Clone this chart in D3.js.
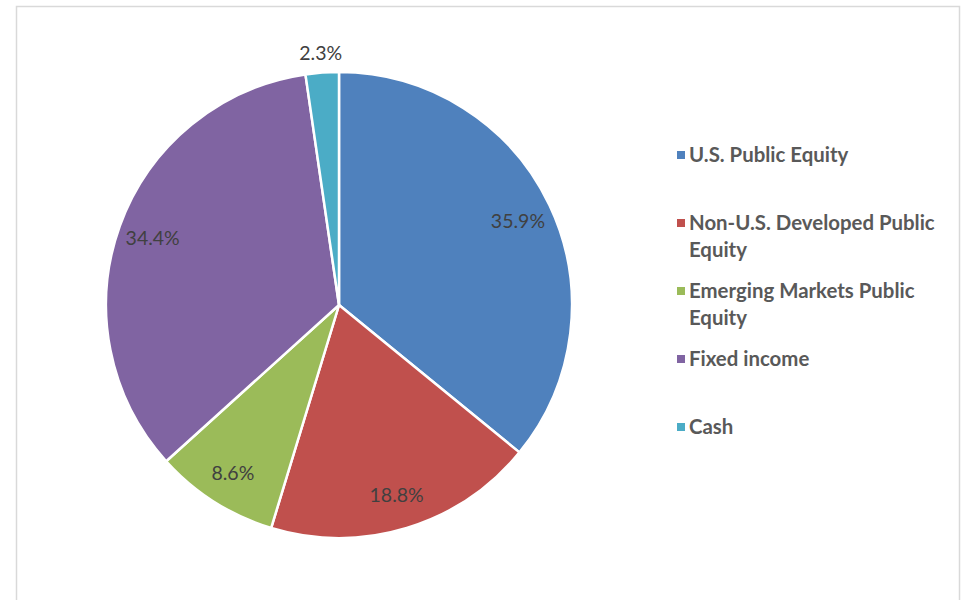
<!DOCTYPE html>
<html>
<head>
<meta charset="utf-8">
<script src="https://cdn.jsdelivr.net/npm/d3@7"></script>
<style>
  body { margin: 0; background: #fff; }
  svg { display: block; }
</style>
</head>
<body>
<svg id="chart"></svg>
<script>
// allocation data
var categories = ["U.S. Public Equity", "Non-U.S. Developed Public Equity",
                  "Emerging Markets Public Equity", "Fixed income", "Cash"];
var shares = [35.9, 18.8, 8.6, 34.4, 2.3];
var colors = ["#4F81BD", "#C0504D", "#9BBB59", "#8064A2", "#4BACC6"];

var width = 966, height = 600;
var cx = 339, cy = 305, radius = 233;

var svg = d3.select("#chart")
    .attr("width", width)
    .attr("height", height);

// outer chart frame
svg.append("rect")
    .attr("x", 16.5).attr("y", 6.5)
    .attr("width", 943).attr("height", 620)
    .attr("fill", "none")
    .attr("stroke", "#d9d9d9")
    .attr("stroke-width", 1.5);

var data = categories.map(function (c, i) {
    return {name: c, value: shares[i], color: colors[i]};
});

var pie = d3.pie()
    .sort(null)
    .value(function (d) { return d.value; });

var arc = d3.arc().innerRadius(0).outerRadius(radius);
var labelArc = d3.arc().innerRadius(radius * 0.85).outerRadius(radius * 0.85);
var outerLabelArc = d3.arc().innerRadius(radius + 20).outerRadius(radius + 20);

var g = svg.append("g")
    .attr("transform", "translate(" + cx + "," + cy + ")");

var arcs = pie(data);

g.selectAll(".slice")
    .data(arcs)
    .enter().append("path")
    .attr("class", "slice")
    .attr("d", arc)
    .attr("fill", function (d) { return d.data.color; })
    .attr("stroke", "#fff")
    .attr("stroke-width", 2.5)
    .attr("stroke-linejoin", "round");

g.selectAll(".label")
    .data(arcs)
    .enter().append("text")
    .attr("class", "label")
    .attr("transform", function (d) {
        var a = d.data.value < 5 ? outerLabelArc : labelArc;
        return "translate(" + a.centroid(d) + ")";
    })
    .attr("text-anchor", "middle")
    .attr("dy", "0.38em")
    .attr("font-family", "Lato, 'Open Sans', sans-serif")
    .attr("font-size", "19.5px")
    .attr("fill", "#404040")
    .text(function (d) { return d.data.value.toFixed(1) + "%"; });

// legend
var legend = svg.append("g")
    .attr("transform", "translate(677,155)");

var item = legend.selectAll(".item")
    .data(data)
    .enter().append("g")
    .attr("class", "item")
    .attr("transform", function (d, i) { return "translate(0," + (i * 68) + ")"; });

item.append("rect")
    .attr("x", 0).attr("y", -4)
    .attr("width", 8).attr("height", 8)
    .attr("fill", function (d) { return d.color; });

item.append("text")
    .attr("x", 12)
    .attr("y", 0)
    .attr("dy", "0.36em")
    .attr("font-family", "Lato, 'Open Sans', sans-serif")
    .attr("font-weight", "bold")
    .attr("font-size", "20.4px")
    .attr("fill", "#595959")
    .each(function (d) {
        var el = d3.select(this);
        var words = d.name.split(" ");
        var line = [];
        var tspan = el.append("tspan").attr("x", 12);
        words.forEach(function (w) {
            line.push(w);
            tspan.text(line.join(" "));
            if (tspan.node().getComputedTextLength() > 262 && line.length > 1) {
                line.pop();
                tspan.text(line.join(" "));
                line = [w];
                tspan = el.append("tspan").attr("x", 12).attr("dy", "26.5px").text(w);
            }
        });
    });
</script>
</body>
</html>
